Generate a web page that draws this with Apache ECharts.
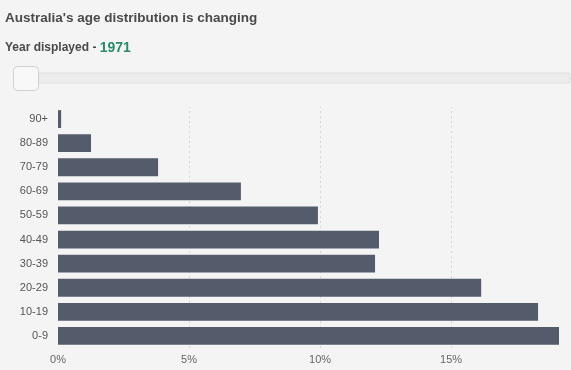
<!DOCTYPE html>
<html><head><meta charset="utf-8">
<script src="https://cdn.jsdelivr.net/npm/echarts@6/dist/echarts.min.js"></script>
<style>html,body{margin:0;padding:0;background:#f4f4f4;}#c{width:571px;height:370px;}</style>
</head><body><div id="c"></div>
<script>
var categories = ['0-9','10-19','20-29','30-39','40-49','50-59','60-69','70-79','80-89','90+'];
var values = [19.12, 18.32, 16.15, 12.1, 12.25, 9.92, 6.98, 3.82, 1.26, 0.12];
var xTicks = [0, 5, 10, 15];
var year = '1971';

var chart = echarts.init(document.getElementById('c'), null, {renderer:'canvas'});
chart.setOption({
  backgroundColor: '#f4f4f4',
  animation: false,
  title: {
    text: "Australia's age distribution is changing",
    left: 0, top: 6,
    textStyle: {fontFamily: 'Liberation Sans, Arial, sans-serif', fontSize: 13.5, fontWeight: 'bold', color: '#4a4a4a'}
  },
  graphic: [
    {type:'text', left: 5, top: 41, style:{
      rich:{a:{fontFamily:'Liberation Sans, Arial, sans-serif', fontSize:12, fontWeight:'bold', fill:'#4a4a4a'},
            b:{fontFamily:'Liberation Sans, Arial, sans-serif', fontSize:14, fontWeight:'bold', fill:'#2a8a6c'}},
      text: '{a|Year displayed - }{b|' + year + '}'
    }},
    {type:'rect', shape:{x:16, y:73, width:554, height:10, r:2}, style:{fill:'#ececec', stroke:'#dcdcdc', lineWidth:1}},
    {type:'rect', shape:{x:13.5, y:66.5, width:25, height:24, r:4}, style:{fill:'#f8f8f8', stroke:'#d0d0d0', lineWidth:1}}
  ],
  grid: {left: 58, right: 12, top: 107, bottom: 22, containLabel: false},
  xAxis: {
    type: 'value', min: 0, max: 'dataMax', interval: 5,
    axisLine: {show: false},
    axisTick: {show: false},
    axisLabel: {color: '#666', fontSize: 11, fontFamily: 'Liberation Sans, Arial, sans-serif', margin: 6,
      formatter: function(v){ return xTicks.indexOf(v) >= 0 ? v + '%' : ''; }},
    splitLine: {show: false}
  },
  yAxis: {
    type: 'category', data: categories,
    axisLine: {show: false}, axisTick: {show: false},
    axisLabel: {color: '#555', fontSize: 11, fontFamily: 'Liberation Sans, Arial, sans-serif', margin: 10}
  },
  series: [{
    type: 'bar', data: values, barCategoryGap: '26%', z: 3,
    itemStyle: {color: '#545c6b'},
    markLine: {
      silent: true, symbol: 'none', label: {show: false}, z: 1,
      lineStyle: {color: '#d6d6d6', type: [2,3], width: 1},
      data: xTicks.slice(1).map(function(v){ return {xAxis: v}; })
    }
  }]
});
</script></body></html>
